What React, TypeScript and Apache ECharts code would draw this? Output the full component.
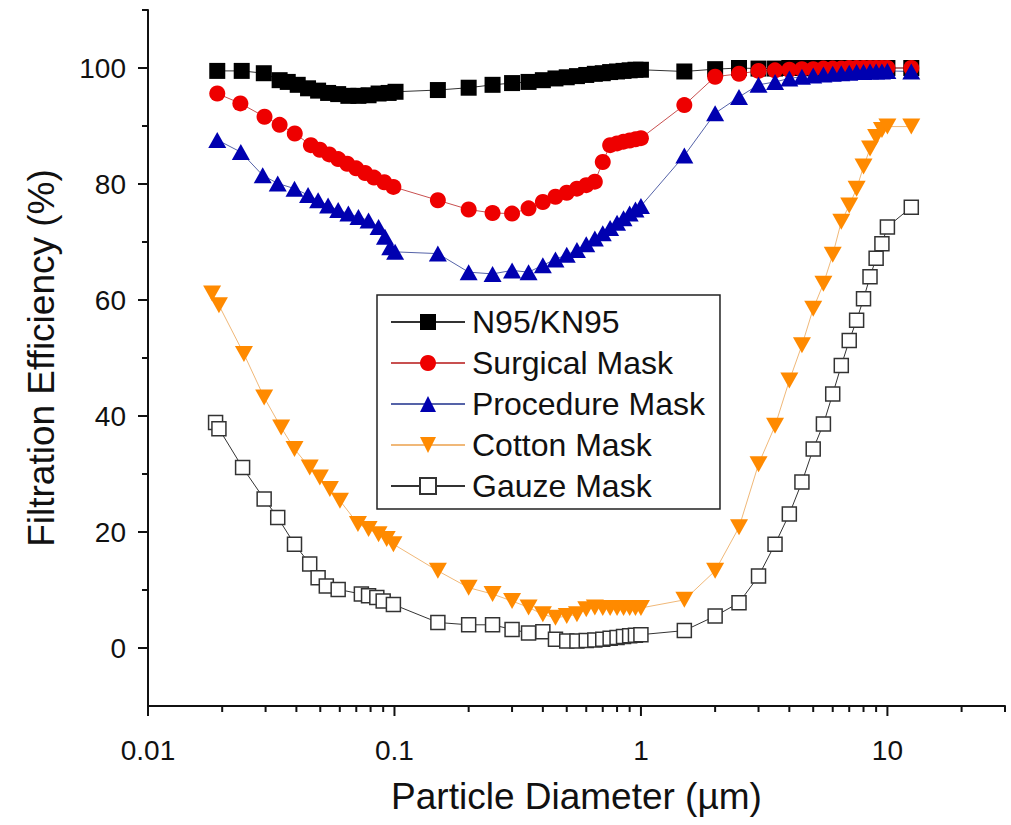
import React, { useEffect, useRef } from "react";
import * as echarts from "echarts";

// ---- data (particle diameter in µm, filtration efficiency in %) ----
const n95X = [0.0191, 0.024, 0.0295, 0.0342, 0.0369, 0.0405, 0.0446, 0.049, 0.0538, 0.0591, 0.065, 0.0714, 0.0785, 0.0862, 0.0947, 0.101,
  0.15, 0.2, 0.25, 0.3, 0.35, 0.4, 0.45, 0.5, 0.55, 0.6, 0.65, 0.7, 0.75, 0.8, 0.85, 0.9, 0.95, 1.0,
  1.5, 2.0, 2.5, 3.0, 3.5, 4.0, 4.5, 5.0, 5.5, 6.0, 6.5, 7.0, 7.5, 8.0, 8.5, 9.0, 9.5, 10, 12.5];
const n95Y = [99.5, 99.5, 99.1, 97.9, 97.6, 97.1, 96.5, 96.1, 95.7, 95.5, 95.2, 95.2, 95.3, 95.6, 95.7, 95.9,
  96.2, 96.6, 97.1, 97.4, 97.6, 97.9, 98.2, 98.4, 98.6, 98.8, 99.0, 99.1, 99.3, 99.4, 99.5, 99.6, 99.7, 99.7,
  99.4, 99.8, 100, 99.9, 99.9, 100, 100, 100, 100, 100, 100, 100, 100, 100, 100, 100, 100, 100, 100];

const surgicalX = [0.0191, 0.0237, 0.0297, 0.0342, 0.0394, 0.0458, 0.0498, 0.0544, 0.0591, 0.0643, 0.0699, 0.076, 0.0826, 0.0909, 0.099,
  0.15, 0.2, 0.25, 0.3, 0.35, 0.4, 0.45, 0.5, 0.55, 0.6, 0.65, 0.7, 0.75, 0.8, 0.85, 0.9, 0.95, 1.0,
  1.5, 2.0, 2.5, 3.0, 3.5, 4.0, 4.5, 5.0, 5.5, 6.0, 6.5, 7.0, 7.5, 8.0, 8.5, 9.0, 9.5, 10, 12.5];
const surgicalY = [95.6, 93.9, 91.6, 90.2, 88.7, 86.7, 85.9, 85.1, 84.3, 83.5, 82.7, 81.9, 81.1, 80.3, 79.5,
  77.2, 75.6, 75.0, 74.9, 75.8, 76.9, 77.8, 78.5, 79.2, 79.8, 80.4, 83.8, 86.7, 87.0, 87.3, 87.5, 87.7, 87.9,
  93.6, 98.5, 99.0, 99.5, 99.6, 99.7, 99.8, 99.8, 99.9, 99.9, 99.9, 100, 100, 100, 100, 100, 100, 100, 100];

const procedureX = [0.0191, 0.0238, 0.0292, 0.0336, 0.0393, 0.0446, 0.049, 0.0538, 0.0591, 0.065, 0.0714, 0.0785, 0.0862, 0.0915, 0.0961, 0.1006,
  0.15, 0.2, 0.25, 0.3, 0.35, 0.4, 0.45, 0.5, 0.55, 0.6, 0.65, 0.7, 0.75, 0.8, 0.85, 0.9, 0.95, 1.0,
  1.5, 2.0, 2.5, 3.0, 3.5, 4.0, 4.5, 5.0, 5.5, 6.0, 6.5, 7.0, 7.5, 8.0, 8.5, 9.0, 9.5, 10, 12.5];
const procedureY = [87.6, 85.5, 81.5, 80.1, 79.2, 78.1, 77.2, 76.3, 75.5, 74.9, 74.3, 73.7, 72.6, 70.9, 69.1, 68.3,
  68.0, 64.8, 64.5, 65.1, 64.8, 66.0, 67.0, 67.8, 68.6, 69.6, 70.6, 71.5, 72.4, 73.3, 74.1, 74.9, 75.6, 76.2,
  84.9, 92.2, 95.0, 97.1, 97.6, 98.2, 98.5, 98.7, 98.9, 99.0, 99.1, 99.2, 99.3, 99.3, 99.4, 99.4, 99.4, 99.5, 99.4];

const cottonX = [0.0182, 0.0194, 0.0245, 0.0296, 0.0347, 0.0393, 0.0453, 0.0498, 0.0547, 0.0601, 0.0711, 0.0785, 0.0862, 0.093, 0.099,
  0.15, 0.2, 0.25, 0.3, 0.35, 0.4, 0.45, 0.5, 0.55, 0.6, 0.65, 0.7, 0.75, 0.8, 0.85, 0.9, 0.95, 1.0,
  1.5, 2.0, 2.5, 3.0, 3.5, 4.0, 4.5, 5.0, 5.5, 6.0, 6.5, 7.0, 7.5, 8.0, 8.5, 9.0, 9.5, 10, 12.5];
const cottonY = [61.1, 59.1, 50.7, 43.2, 38.0, 34.3, 31.1, 29.4, 27.4, 25.4, 21.4, 20.5, 19.6, 18.8, 17.9,
  13.3, 10.4, 9.3, 8.1, 7.0, 5.8, 5.2, 5.5, 5.8, 6.7, 7.0, 6.9, 6.9, 6.9, 6.9, 6.9, 6.9, 6.9,
  8.3, 13.3, 20.8, 31.7, 38.3, 46.1, 52.2, 58.5, 62.8, 67.8, 73.5, 76.3, 79.2, 83.0, 86.1, 88.1, 89.3, 89.9, 89.9];

const gauzeX = [0.0188, 0.0194, 0.0242, 0.0296, 0.0336, 0.0393, 0.0453, 0.049, 0.0529, 0.0591, 0.0734, 0.0785, 0.0848, 0.09, 0.099,
  0.15, 0.2, 0.25, 0.3, 0.35, 0.4, 0.45, 0.5, 0.55, 0.6, 0.65, 0.7, 0.75, 0.8, 0.85, 0.9, 0.95, 1.0,
  1.5, 2.0, 2.5, 3.0, 3.5, 4.0, 4.5, 5.0, 5.5, 6.0, 6.5, 7.0, 7.5, 8.0, 8.5, 9.0, 9.5, 10, 12.5];
const gauzeY = [38.9, 37.8, 31.1, 25.7, 22.5, 17.9, 14.5, 12.1, 10.7, 10.1, 9.3, 9.0, 8.7, 8.1, 7.5,
  4.4, 4.0, 4.0, 3.2, 2.6, 2.8, 1.5, 1.2, 1.2, 1.3, 1.4, 1.5, 1.7, 1.8, 2.0, 2.1, 2.2, 2.3,
  3.0, 5.5, 7.8, 12.4, 17.9, 23.1, 28.6, 34.3, 38.6, 43.8, 48.7, 53.0, 56.5, 60.2, 64.0, 67.2, 69.7, 72.6, 76.0];

const seriesNames = ["N95/KN95", "Surgical Mask", "Procedure Mask", "Cotton Mask", "Gauze Mask"];

const xMajorTicks = [0.01, 0.1, 1, 10];
const xMinorTicks = [0.02, 0.03, 0.04, 0.05, 0.06, 0.07, 0.08, 0.09, 0.2, 0.3, 0.4, 0.5, 0.6, 0.7, 0.8, 0.9,
  2, 3, 4, 5, 6, 7, 8, 9, 20, 30];
const yMajorTicks = [0, 20, 40, 60, 80, 100];
const yMinorTicks = [10, 30, 50, 70, 90, 110];

const FONT = "'Liberation Sans', Arial, sans-serif";

const zip = (xs: number[], ys: number[]) => xs.map((x, i) => [x, ys[i]]);

export default function App() {
  const ref = useRef<HTMLDivElement>(null);
  useEffect(() => {
    const chart = echarts.init(ref.current!, null, { renderer: "svg" });
    const tickData: any[] = [
      ...xMajorTicks.map((v) => [v, -10, 0, 10]),
      ...xMinorTicks.map((v) => [v, -10, 0, 6]),
      ...yMajorTicks.map((v) => [0.01, v, 1, 10]),
      ...yMinorTicks.map((v) => [0.01, v, 1, 6]),
    ];
    const lineSeries = (name: string, data: number[][], symbol: string, size: any, color: string, lineColor: string) => ({
      name,
      type: "line",
      data,
      symbol,
      symbolSize: size,
      showAllSymbol: true,
      lineStyle: { color: lineColor, width: 1 },
      itemStyle: { color, borderWidth: 0 },
      emphasis: { disabled: true },
      z: 2,
    });
    chart.setOption({
      animation: false,
      backgroundColor: "#fff",
      textStyle: { fontFamily: FONT },
      grid: { left: 148, right: 6, top: 10, bottom: 119, containLabel: false },
      legend: {
        data: seriesNames,
        orient: "vertical",
        left: 377,
        top: 295,
        padding: [11, 15, 7, 13],
        itemGap: 9,
        itemWidth: 74,
        itemHeight: 20,
        borderColor: "#222",
        borderWidth: 1.5,
        backgroundColor: "#fff",
        textStyle: { fontSize: 32, color: "#111", fontFamily: FONT, lineHeight: 30, padding: [0, 0, 0, 2] },
        selectedMode: false,
      },
      xAxis: {
        type: "log",
        logBase: 10,
        min: 0.01,
        max: 30,
        name: "Particle Diameter (\u00b5m)",
        nameLocation: "middle",
        nameGap: 72,
        nameTextStyle: { fontSize: 37, color: "#111", fontFamily: FONT },
        axisLine: { show: true, onZero: false, lineStyle: { color: "#111", width: 2 } },
        axisTick: { show: false },
        splitLine: { show: false },
        axisLabel: {
          fontSize: 28,
          color: "#111",
          margin: 30,
          fontFamily: FONT,
          formatter: (v: number) => {
            const l = Math.log10(v);
            if (Math.abs(l - Math.round(l)) > 1e-6 || v > 11) return "";
            return String(Number(v.toPrecision(1)));
          },
        },
      },
      yAxis: {
        type: "value",
        min: -10,
        max: 110,
        interval: 10,
        name: "Filtration Efficiency (%)",
        nameLocation: "middle",
        nameGap: 88,
        nameTextStyle: { fontSize: 37, color: "#111", fontFamily: FONT },
        axisLine: { show: true, onZero: false, lineStyle: { color: "#111", width: 2 } },
        axisTick: { show: false },
        splitLine: { show: false },
        axisLabel: {
          fontSize: 28,
          color: "#111",
          margin: 22,
          fontFamily: FONT,
          formatter: (v: number) => (v >= 0 && v <= 100 && v % 20 === 0 ? String(v) : ""),
        },
      },
      series: [
        {
          name: "ticks",
          type: "custom",
          data: tickData,
          clip: false,
          silent: true,
          z: 1,
          encode: { x: 0, y: 1 },
          renderItem: (params: any, api: any) => {
            const p = api.coord([api.value(0), api.value(1)]);
            const isY = api.value(2) === 1;
            const len = api.value(3);
            return {
              type: "line",
              shape: isY
                ? { x1: p[0], y1: p[1], x2: p[0] - len, y2: p[1] }
                : { x1: p[0], y1: p[1], x2: p[0], y2: p[1] + len },
              style: { stroke: "#111", lineWidth: 2 },
            };
          },
        },
        lineSeries(seriesNames[0], zip(n95X, n95Y), "rect", 16, "#000000", "#333333"),
        lineSeries(seriesNames[1], zip(surgicalX, surgicalY), "circle", 16, "#ee0000", "#c85050"),
        lineSeries(seriesNames[2], zip(procedureX, procedureY), "triangle", [18, 16], "#0000b0", "#5563a8"),
        lineSeries(seriesNames[3], zip(cottonX, cottonY), "path://M0,0 L10,0 L5,9 Z", [18, 16], "#ff8a00", "#f0b878"),
        {
          ...lineSeries(seriesNames[4], zip(gauzeX, gauzeY), "rect", 14, "#ffffff", "#333333"),
          itemStyle: { color: "#ffffff", borderColor: "#333333", borderWidth: 1.5 },
        },
      ],
    });
    return () => chart.dispose();
  }, []);
  return (
    <div
      ref={ref}
      style={{ position: "absolute", left: 0, top: 0, width: 1011, height: 825, background: "#fff" }}
    />
  );
}
